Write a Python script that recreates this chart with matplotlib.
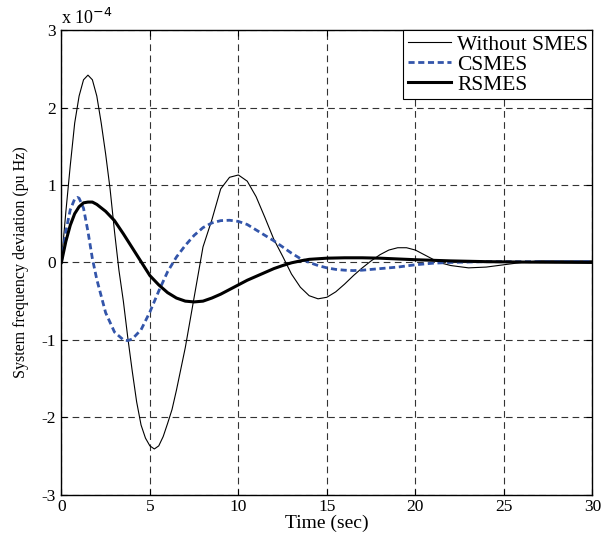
import numpy as np
import matplotlib
matplotlib.use("Agg")
import matplotlib.pyplot as plt

# values (units of 1e-4 pu Hz)
t_without = [0, 0.25, 0.5, 0.75, 1.0, 1.25, 1.5, 1.75, 2.0, 2.25, 2.5, 2.75,
             3.0, 3.25, 3.5, 3.75, 4.0, 4.25, 4.5, 4.75, 5.0, 5.25, 5.5, 5.75,
             6.0, 6.25, 6.5, 7.0, 7.5, 8.0, 8.5, 9.0, 9.5, 10.0, 10.5, 11.0,
             11.5, 12.0, 12.5, 13.0, 13.5, 14.0, 14.5, 15.0, 15.5, 16.0, 16.5,
             17.0, 17.5, 18.0, 18.5, 19.0, 19.5, 20.0, 20.5, 21.0, 21.5, 22.0,
             23.0, 24.0, 25.0, 26.0, 27.0, 28.0, 29.0, 30.0]
without_smes = [0, 0.65, 1.25, 1.8, 2.15, 2.36, 2.42, 2.36, 2.15, 1.8, 1.4, 0.95,
                0.4, -0.1, -0.5, -0.97, -1.4, -1.8, -2.1, -2.27, -2.37, -2.41, -2.37, -2.25,
                -2.08, -1.9, -1.65, -1.1, -0.45, 0.2, 0.55, 0.95, 1.1, 1.13, 1.05, 0.85,
                0.58, 0.3, 0.08, -0.15, -0.32, -0.43, -0.47, -0.45, -0.38, -0.28, -0.17,
                -0.07, 0.02, 0.1, 0.16, 0.19, 0.19, 0.16, 0.1, 0.04, -0.01, -0.04,
                -0.07, -0.06, -0.03, 0.0, 0.02, 0.02, 0.02, 0.02]

t_csmes = [0, 0.25, 0.5, 0.75, 0.9, 1.0, 1.25, 1.5, 1.75, 2.0, 2.5, 3.0, 3.5,
           3.75, 4.0, 4.5, 5.0, 5.5, 6.0, 6.5, 7.0, 7.5, 8.0, 8.5, 9.0, 9.5,
           10.0, 10.5, 11.0, 11.5, 12.0, 12.5, 13.0, 13.5, 14.0, 14.5, 15.0,
           15.5, 16.0, 16.5, 17.0, 17.5, 18.0, 19.0, 20.0, 21.0, 22.0, 24.0,
           26.0, 28.0, 30.0]
csmes = [0, 0.4, 0.68, 0.82, 0.84, 0.83, 0.7, 0.4, 0.05, -0.22, -0.65, -0.9, -1.0,
         -1.01, -0.99, -0.87, -0.64, -0.37, -0.12, 0.07, 0.22, 0.35, 0.45, 0.51, 0.54, 0.545,
         0.53, 0.49, 0.42, 0.35, 0.28, 0.2, 0.12, 0.05, 0.0, -0.04, -0.07,
         -0.09, -0.1, -0.105, -0.1, -0.09, -0.08, -0.06, -0.03, -0.01, 0.0, 0.01,
         0.01, 0.01, 0.01]

t_rsmes = [0, 0.25, 0.5, 0.75, 1.0, 1.25, 1.5, 1.75, 2.0, 2.5, 3.0, 3.5, 4.0,
           4.5, 5.0, 5.5, 6.0, 6.5, 7.0, 7.5, 8.0, 8.5, 9.0, 9.5, 10.0, 10.5,
           11.0, 11.5, 12.0, 12.5, 13.0, 13.5, 14.0, 15.0, 16.0, 17.0, 18.0,
           19.0, 20.0, 22.0, 24.0, 26.0, 30.0]
rsmes = [0, 0.27, 0.48, 0.63, 0.72, 0.77, 0.78, 0.78, 0.75, 0.66, 0.54, 0.37, 0.19,
         0.01, -0.17, -0.29, -0.39, -0.46, -0.5, -0.51, -0.5, -0.46, -0.41, -0.35, -0.29, -0.23,
         -0.18, -0.13, -0.08, -0.04, -0.005, 0.02, 0.04, 0.055, 0.06, 0.06, 0.055,
         0.045, 0.035, 0.02, 0.01, 0.005, 0.0]

x_ticks = [0, 5, 10, 15, 20, 25, 30]
y_ticks = [-3, -2, -1, 0, 1, 2, 3]

plt.rcParams["font.family"] = ["Liberation Serif", "DejaVu Serif"]

fig = plt.figure(figsize=(6.02, 5.4), dpi=100)
ax = fig.add_axes([0.102, 0.084, 0.882, 0.86])

ax.plot(t_without, without_smes, color="black", lw=0.8, label="Without SMES")
ax.plot(t_csmes, csmes, color="#3355aa", lw=2.0, linestyle=(0, (2.2, 1.3)), label="CSMES")
ax.plot(t_rsmes, rsmes, color="black", lw=2.2, label="RSMES")

ax.set_xlim(0, 30)
ax.set_ylim(-3, 3)
ax.set_xticks(x_ticks)
ax.set_yticks(y_ticks)
ax.set_xticklabels([str(v) for v in x_ticks], fontsize=12.5)
ax.set_yticklabels([str(v) for v in y_ticks], fontsize=12.5)
ax.tick_params(direction="in", length=4, width=0.8, top=True, right=True)
ax.tick_params(axis="x", pad=3)
ax.tick_params(axis="y", pad=4)
ax.grid(True, color="#333333", linestyle=(0, (6, 4)), lw=0.8)
for s in ax.spines.values():
    s.set_linewidth(1.0)

ax.set_xlabel("Time (sec)", fontsize=14, labelpad=0)
ax.set_ylabel("System frequency deviation (pu Hz)", fontsize=11.5, labelpad=9)
ax.text(0.0, 1.004, "x 10$^{-4}$", transform=ax.transAxes, fontsize=13,
        ha="left", va="bottom")

leg = ax.legend(loc="upper right", fontsize=15.5, fancybox=False, framealpha=1,
                edgecolor="black", borderaxespad=0.0, handlelength=2.0,
                handletextpad=0.3, borderpad=0.2, labelspacing=0.0)
leg.get_frame().set_linewidth(0.8)

fig.savefig("out.png", dpi=100)
